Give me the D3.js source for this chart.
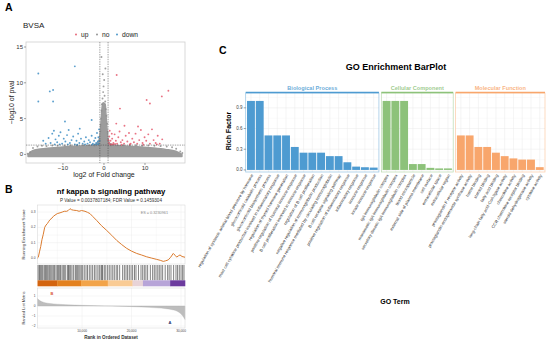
<!DOCTYPE html>
<html><head><meta charset="utf-8">
<script src="https://cdn.jsdelivr.net/npm/d3@7"></script>
<style>body{margin:0;background:#fff}svg{display:block}text{font-family:"Liberation Sans",Arial,sans-serif}</style>
</head><body><svg id="c" width="550" height="345"></svg>
<script>
// ---------- Panel A: volcano ----------
const volcanoTitle = "BVSA";
const legendLabels = ["up", "no", "down"];
const volcanoXTicks = [-10, 0, 10];
const volcanoYTicks = [0, 5, 10, 15];
const fcCut = 1, pCut = 1.3;
const grayCloudTop = [[-18.5,0],[-17.5,0.5],[-15.5,0.75],[-13,0.9],[-10,1.05],[-7,1.15],[-4,1.22],[-2,1.4],[-1.2,2.0],[-0.85,3.4],[-0.65,5.0],[-0.45,6.6],[-0.2,7.2],[0.3,7.0],[0.5,5.5],[0.7,3.8],[0.95,2.3],[1.5,1.5],[3,1.25],[6,1.15],[9,1.05],[12,0.9],[15,0.7],[17.5,0.45],[19,0]];
const upPts = [[3.1,11.1],[3.9,6.4],[10.4,7.6],[11.2,7.1],[14.1,8.1],[15.7,8.9],
 [1.2,1.6],[1.3,2.5],[1.4,3.3],[1.6,1.9],[1.8,1.4],[2.0,2.2],[2.3,1.6],[2.6,2.8],[2.9,1.9],[3.2,1.5],[3.5,2.4],[3.8,3.2],[4.1,1.7],[4.5,2.0],[4.9,1.5],[5.3,2.6],[5.7,1.8],[6.1,3.0],[6.5,1.5],[6.9,2.2],[7.3,1.7],[7.7,2.9],[8.1,1.5],[8.6,2.0],[9.0,3.4],[9.4,1.6],[9.9,2.4],[10.3,1.9],[10.8,2.8],[11.2,1.5],[11.7,3.5],[12.1,2.0],[12.6,1.6],[13.1,2.6],[13.6,1.5],[14.2,2.1],[8.3,3.9],[5.0,4.0],[2.2,1.4],[3.0,4.3],[1.5,1.4],[2.7,1.45],[4.3,1.35],[1.1,2.0],[1.9,2.9],[6.3,1.4],[9.6,1.35],[12.9,1.4]];
const downPts = [[-16.0,11.3],[-7.1,12.3],[-13.2,8.8],[-12.4,9.0],[-16.0,7.4],[-12.4,7.4],[-9.5,4.6],[-3.0,4.8],
 [-14.8,1.9],[-14.2,1.5],[-13.5,2.3],[-13.0,1.6],[-12.6,2.9],[-12.2,3.3],[-11.8,2.1],[-11.4,1.7],[-11.0,2.6],[-10.6,3.1],[-10.2,1.5],[-9.8,2.2],[-9.4,1.8],[-9.0,2.7],[-8.6,3.4],[-8.3,1.6],[-7.9,2.0],[-7.5,2.5],[-7.1,1.4],[-6.7,1.9],[-6.3,2.9],[-6.0,1.6],[-5.6,2.2],[-5.2,1.5],[-4.8,1.8],[-4.4,2.4],[-4.0,1.5],[-3.7,2.0],[-3.4,1.7],[-3.0,2.6],[-2.7,1.5],[-2.4,1.9],[-2.1,2.3],[-1.9,1.6],[-1.7,3.0],[-1.5,1.8],[-1.35,2.4],[-1.25,1.5],[-1.2,3.5],[-2.2,1.4],[-5.9,3.6],[-10.8,1.4],[-12.0,1.4],[-1.1,1.9],[-1.6,1.4],[-2.9,1.35],[-4.6,1.4],[-6.5,1.35],[-8.8,1.4]];
const noPts = [[-18.6,0.1],[-18,0.3],[-17.3,0.9],[-16.2,1.1],[-15.1,1.2],[-14,1.15],[-12.6,1.25],[-11.3,1.2],[-9.6,1.25],[-8.1,1.28],[-6.6,1.25],[-5.1,1.27],[-3.6,1.28],[-2.3,1.2],
 [-0.95,1.9],[-0.9,3.2],[-0.85,4.1],[-0.7,5.0],[-0.6,6.1],[-0.5,7.0],[-0.35,7.8],[-0.2,8.7],[-0.1,9.5],[0.15,8.2],[0.3,7.4],[0.45,6.3],[0.6,5.4],[0.75,4.3],[0.9,3.1],[0.95,2.0],[0.05,10.4],[-0.3,11.2],[0.35,12.0],[-0.6,13.6],
 [1.7,1.25],[3.3,1.28],[4.8,1.27],[6.3,1.25],[7.8,1.28],[9.3,1.2],[10.8,1.25],[12.3,1.2],[13.8,1.15],[15.3,1.1],[16.6,1.0],[17.6,0.8],[18.6,0.4],[19.1,0.2]];

// ---------- Panel B: GSEA ----------
const gseaTitle = "nf kappa b signaling pathway";
const gseaSubtitle = "P Value = 0.0037807184; FDR Value = 0.1459304";
const esLabel = "ES = 0.3230961";
const esTicks = [0.0, 0.1, 0.2, 0.3];
const rankTicks = [10000, 20000, 30000];
const metricTicks = [1, 0, -1, -2];
const esCurve = [[1000,0.0],[1160,0.005],[1400,0.04],[1650,0.075],[1900,0.12],[2170,0.155],[2450,0.2],[2720,0.215],[3000,0.225],[3300,0.24],[3530,0.25],[3900,0.26],[4200,0.272],[4540,0.28],[5000,0.29],[5550,0.295],[6000,0.3],[6400,0.305],[6900,0.305],[7200,0.31],[7570,0.322],[7900,0.315],[8300,0.312],[8920,0.31],[9400,0.305],[9900,0.31],[10600,0.305],[11100,0.298],[11600,0.29],[12200,0.27],[12960,0.245],[13900,0.212],[14980,0.18],[16000,0.148],[17000,0.115],[18000,0.088],[19020,0.063],[20000,0.045],[21040,0.03],[22000,0.02],[23060,0.008],[24000,0.0],[25080,-0.009],[25800,-0.015],[26410,-0.022],[26900,-0.018],[27420,-0.012],[27900,0.005],[28430,0.03],[28800,0.018],[29120,0.006],[29500,0.015],[29790,0.02],[30200,0.01],[30800,0.005]];
const hits = [1100,1350,1500,1700,1900,2100,2380,2600,2800,3050,3300,3500,3720,3950,4200,4450,4740,5000,5200,5410,5650,5950,6200,6420,6700,7090,7250,7430,7700,7970,8300,8640,8850,9110,9350,9590,9850,10120,10450,10800,11100,11470,11800,12140,12500,12820,13200,13500,13830,14000,14160,14500,14800,15170,15500,15850,16200,16520,16900,17190,17600,18200,18550,18880,19200,19550,19900,20220,20600,20900,21400,21910,22250,22580,22900,23250,23800,24260,24600,24940,25300,25610,25950,26280,26800,27290,27600,27970,28500,28980,29300,29650,30000,30320,30600];
const bandStops = [1000, 5000, 9800, 15200, 20200, 22300, 27800, 30800];
const bandColors = ["#D3640F","#E3811F","#F2A44A","#F9CB94","#E8D3D7","#B7A4D8","#6C3B9E"];
const rankedMetric = [[1000,0.75],[1300,0.6],[1800,0.45],[2500,0.33],[3500,0.25],[5000,0.18],[7000,0.12],[10000,0.07],[13000,0.03],[16000,0.0],[19000,-0.04],[22000,-0.1],[25000,-0.18],[27000,-0.27],[28500,-0.4],[29500,-0.6],[30200,-0.9],[30800,-1.35]];

// ---------- Panel C: GO bars ----------
const goTitle = "GO Enrichment BarPlot";
const facetNames = ["Biological Process", "Cellular Component", "Molecular Function"];
const bpTerms = ["regulation of systemic arterial blood pressure by hormone","glucocorticoid catabolic process","glucocorticoid biosynthetic process","mast cell cytokine production involved in inflammatory response","regulation of thyroid hormone generation","positive regulation of humoral immune response","B cell proliferation involved in immune response","regulation of B cell proliferation","negative regulation of immunoglobulin production","humoral immune response mediated by circulating immunoglobulin","B cell receptor signaling pathway","positive regulation of inflammatory response","inflammatory response","immune response","innate immune response"];
const bpValues = [1.0,1.0,0.5,0.5,0.5,0.333,0.25,0.25,0.25,0.2,0.2,0.111,0.048,0.039,0.034];
const ccTerms = ["IgA immunoglobulin complex","monomeric IgA immunoglobulin complex","secretory dimeric IgA immunoglobulin complex","blood microparticle","external side of plasma membrane","cell surface","extracellular space","extracellular region"];
const ccValues = [1.0,1.0,1.0,0.085,0.085,0.03,0.022,0.022];
const mfTerms = ["prostaglandin F receptor activity","prostaglandin-endoperoxide synthase activity","heme binding","steroid binding","fatty acid binding","long-chain fatty acid-CoA ligase activity","chemokine activity","CCR chemokine receptor binding","steroid dehydrogenase activity","cytokine activity"];
const mfValues = [0.5,0.5,0.333,0.333,0.25,0.2,0.167,0.15,0.15,0.04];
const richTicks = [0.0, 0.3, 0.6, 0.9];
const facetColors = ["#4E9BD1", "#8DC27A", "#F8A66C"];

const svg = d3.select("#c");
const serif = '"Liberation Serif","Times New Roman",serif';

// panel letters
[["A",5,11],["B",5,193],["C",219,54]].forEach(([t,x,y]) =>
  svg.append("text").attr("x",x).attr("y",y).text(t).attr("font-family",serif).attr("font-weight","bold").attr("font-size",10.5));

// ===== A =====
{
  const x = d3.scaleLinear().domain([-19, 19.75]).range([26, 185]);
  const y = d3.scaleLinear().domain([-1.2, 15.7]).range([163, 42]);
  const g = svg.append("g");
  g.append("text").attr("x",23).attr("y",28).text(volcanoTitle).attr("font-size",8).attr("fill","#222");
  const legendCols = ["#E55A6E","#8a8a8a","#3E8EC4"];
  const lx = [76, 97, 117];
  legendLabels.forEach((l,i)=>{
    g.append("circle").attr("cx",lx[i]).attr("cy",34.5).attr("r",0.9).attr("fill",legendCols[i]);
    g.append("text").attr("x",lx[i]+5).attr("y",37).text(l).attr("font-size",6.7).attr("fill","#222");
  });
  g.append("rect").attr("x",26).attr("y",42).attr("width",159).attr("height",121).attr("fill","#fff").attr("stroke","#cfcfcf").attr("stroke-width",0.8);
  const area = d3.area().x(d=>x(d[0])).y0(y(-0.3)).y1(d=>y(d[1])).curve(d3.curveMonotoneX);
  g.append("path").datum(grayCloudTop).attr("d",area).attr("fill","#9c9c9c").attr("stroke","#9c9c9c").attr("stroke-width",1.5).attr("stroke-linejoin","round");
  const pts = (data,col) => g.append("g").selectAll("circle").data(data).join("circle")
     .attr("cx",d=>x(d[0])).attr("cy",d=>y(d[1])).attr("r",0.95).attr("fill",col).attr("fill-opacity",0.85);
  pts(noPts,"#8f8f8f"); pts(downPts,"#3E8EC4"); pts(upPts,"#E55A6E");
  const dash = "1.4,1";
  [-fcCut, fcCut].forEach(v => g.append("line").attr("x1",x(v)).attr("x2",x(v)).attr("y1",42).attr("y2",163).attr("stroke","#444").attr("stroke-width",0.5).attr("stroke-dasharray",dash));
  g.append("line").attr("x1",26).attr("x2",185).attr("y1",y(pCut)).attr("y2",y(pCut)).attr("stroke","#444").attr("stroke-width",0.5).attr("stroke-dasharray",dash);
  volcanoYTicks.forEach(t=>{
    g.append("line").attr("x1",24).attr("x2",26).attr("y1",y(t)).attr("y2",y(t)).attr("stroke","#444").attr("stroke-width",0.5);
    g.append("text").attr("x",23).attr("y",y(t)+2).attr("text-anchor","end").attr("font-size",6).attr("fill","#333").text(t);
  });
  volcanoXTicks.forEach(t=>{
    g.append("line").attr("x1",x(t)).attr("x2",x(t)).attr("y1",163).attr("y2",165).attr("stroke","#444").attr("stroke-width",0.5);
    g.append("text").attr("x",x(t)).attr("y",170).attr("text-anchor","middle").attr("font-size",6).attr("fill","#333").text(t === 0 ? "0" : (t<0? "\u2212"+(-t) : t));
  });
  g.append("text").attr("x",104).attr("y",177).attr("text-anchor","middle").attr("font-size",7).attr("fill","#222").text("log2 of Fold change");
  g.append("text").attr("transform","translate(13.5,102.5) rotate(-90)").attr("text-anchor","middle").attr("font-size",7).attr("fill","#222").text("\u2212log10 of pval");
}

// ===== B =====
{
  const x = d3.scaleLinear().domain([1000, 30800]).range([37.5, 185]);
  const yE = d3.scaleLinear().domain([-0.039, 0.346]).range([264, 205]);
  const yR = d3.scaleLinear().domain([-2.2, 1.8]).range([328, 288]);
  const g = svg.append("g");
  g.append("text").attr("x",111).attr("y",194).attr("text-anchor","middle").attr("font-weight","bold").attr("font-size",7.8).text(gseaTitle);
  g.append("text").attr("x",111).attr("y",202).attr("text-anchor","middle").attr("font-size",4.6).attr("fill","#333").text(gseaSubtitle);
  // ES panel
  g.append("rect").attr("x",37.5).attr("y",205).attr("width",147.5).attr("height",59).attr("fill","#fff");
  const grid = "#ececec";
  [5000,10000,15000,20000,25000,30000].forEach(v=>g.append("line").attr("x1",x(v)).attr("x2",x(v)).attr("y1",205).attr("y2",264).attr("stroke",grid).attr("stroke-width",v%10000?0.3:0.5));
  [-0.05+0.1*0, 0.05, 0.15, 0.25].forEach(v=>{ if(v>-0.039) g.append("line").attr("x1",37.5).attr("x2",185).attr("y1",yE(v)).attr("y2",yE(v)).attr("stroke",grid).attr("stroke-width",0.3);});
  esTicks.forEach(v=>{
    g.append("line").attr("x1",37.5).attr("x2",185).attr("y1",yE(v)).attr("y2",yE(v)).attr("stroke",grid).attr("stroke-width",0.5);
    g.append("text").attr("x",35.5).attr("y",yE(v)+1).attr("text-anchor","end").attr("font-size",3.2).attr("fill","#444").text(v.toFixed(1));
  });
  g.append("rect").attr("x",37.5).attr("y",205).attr("width",147.5).attr("height",59).attr("fill","none").attr("stroke","#d4d4d4").attr("stroke-width",0.5);
  g.append("path").datum(esCurve).attr("d",d3.line().x(d=>x(d[0])).y(d=>yE(d[1]))).attr("fill","none").attr("stroke","#DB7B2E").attr("stroke-width",1);
  g.append("text").attr("x",168).attr("y",214).attr("text-anchor","end").attr("font-size",3.8).attr("fill","#8a8a8a").text(esLabel);
  g.append("text").attr("transform",`translate(25,${(205+264)/2}) rotate(-90)`).attr("text-anchor","middle").attr("font-size",4.2).attr("fill","#333").text("Running Enrichment Score");
  // barcode
  g.append("rect").attr("x",37.5).attr("y",265).attr("width",147.5).attr("height",15.3).attr("fill","#fff");
  g.append("g").selectAll("line").data(hits).join("line").attr("x1",d=>x(d)).attr("x2",d=>x(d)).attr("y1",265).attr("y2",280.3).attr("stroke","#000").attr("stroke-opacity",0.55).attr("stroke-width",0.9);
  // color band
  bandColors.forEach((c,i)=>g.append("rect").attr("x",x(bandStops[i])).attr("y",280.3).attr("width",x(bandStops[i+1])-x(bandStops[i])+0.3).attr("height",6).attr("fill",c));
  // ranked list
  g.append("rect").attr("x",37.5).attr("y",288).attr("width",147.5).attr("height",40).attr("fill","#fff");
  [10000,20000,30000].forEach(v=>g.append("line").attr("x1",x(v)).attr("x2",x(v)).attr("y1",288).attr("y2",328).attr("stroke",grid).attr("stroke-width",0.5));
  metricTicks.forEach(v=>{
    g.append("line").attr("x1",37.5).attr("x2",185).attr("y1",yR(v)).attr("y2",yR(v)).attr("stroke",grid).attr("stroke-width",0.5);
    g.append("text").attr("x",35.5).attr("y",yR(v)+1).attr("text-anchor","end").attr("font-size",3.2).attr("fill","#444").text(v<0?"\u2212"+(-v):v);
  });
  g.append("path").datum(rankedMetric).attr("d",d3.area().x(d=>x(d[0])).y0(yR(0)).y1(d=>yR(d[1])).curve(d3.curveMonotoneX)).attr("fill","#bdbdbd").attr("stroke","#a8a8a8").attr("stroke-width",0.3);
  g.append("rect").attr("x",37.5).attr("y",288).attr("width",147.5).attr("height",40).attr("fill","none").attr("stroke","#d4d4d4").attr("stroke-width",0.5);
  g.append("text").attr("x",52).attr("y",294.5).attr("text-anchor","middle").attr("font-size",4).attr("font-weight","bold").attr("fill","#D9553A").text("B");
  g.append("text").attr("x",170).attr("y",324).attr("text-anchor","middle").attr("font-size",4).attr("font-weight","bold").attr("fill","#23306B").text("A");
  rankTicks.forEach(v=>g.append("text").attr("x",x(v)).attr("y",332).attr("text-anchor","middle").attr("font-size",3.2).attr("fill","#444").text(d3.format(",")(v)));
  g.append("text").attr("transform",`translate(25,308) rotate(-90)`).attr("text-anchor","middle").attr("font-size",4).attr("fill","#333").text("Ranked List Metric");
  g.append("text").attr("x",111).attr("y",339).attr("text-anchor","middle").attr("font-size",4.6).attr("font-weight","bold").attr("fill","#333").text("Rank in Ordered Dataset");
}

// ===== C =====
{
  const g = svg.append("g");
  g.append("text").attr("x",396).attr("y",70).attr("text-anchor","middle").attr("font-weight","bold").attr("font-size",9).text(goTitle);
  const y = d3.scaleLinear().domain([-0.03, 1.115]).range([172, 93]);
  const facets = [[bpTerms,bpValues],[ccTerms,ccValues],[mfTerms,mfValues]];
  const L = 245.7, R = 545, gap = 2.4;
  const units = facets.reduce((s,f)=>s+f[0].length+0.2,0);
  const uw = (R-L-gap*2)/units;
  let x0 = L;
  facets.forEach(([terms,vals],fi)=>{
    const w = uw*(terms.length+0.2);
    const xs = d3.scaleBand().domain(terms).range([x0, x0+w]).paddingInner(0.1).paddingOuter(0.15);
    const col = facetColors[fi];
    // grid
    terms.forEach(t=>g.append("line").attr("x1",xs(t)+xs.bandwidth()/2).attr("x2",xs(t)+xs.bandwidth()/2).attr("y1",93).attr("y2",172).attr("stroke","#ebebeb").attr("stroke-width",0.5));
    [0.15,0.45,0.75,1.05].forEach(v=>g.append("line").attr("x1",x0).attr("x2",x0+w).attr("y1",y(v)).attr("y2",y(v)).attr("stroke","#f0f0f0").attr("stroke-width",0.3));
    richTicks.forEach(v=>g.append("line").attr("x1",x0).attr("x2",x0+w).attr("y1",y(v)).attr("y2",y(v)).attr("stroke","#ebebeb").attr("stroke-width",0.5));
    // bars
    g.append("g").selectAll("rect").data(terms).join("rect")
      .attr("x",t=>xs(t)).attr("width",xs.bandwidth())
      .attr("y",(t,i)=>y(vals[i])).attr("height",(t,i)=>y(0)-y(vals[i])).attr("fill",col);
    // frame
    g.append("rect").attr("x",x0).attr("y",93).attr("width",w).attr("height",79).attr("fill","none").attr("stroke",col).attr("stroke-opacity",0.6).attr("stroke-width",0.7);
    g.append("line").attr("x1",x0).attr("x2",x0+w).attr("y1",92.6).attr("y2",92.6).attr("stroke",col).attr("stroke-width",1.5);
    g.append("text").attr("x",x0+w/2).attr("y",89.6).attr("text-anchor","middle").attr("font-size",5.6).attr("font-weight","bold").attr("fill",col).attr("fill-opacity",0.85).text(facetNames[fi]);
    // term labels
    terms.forEach(t=>{
      const cx = xs(t)+xs.bandwidth()/2;
      g.append("text").attr("transform",`translate(${cx+1.2},174.6) rotate(-60)`).attr("text-anchor","end").attr("dy","0.35em").attr("font-size",4.2).attr("fill","#333").text(t);
    });
    x0 += w + gap;
  });
  richTicks.forEach(v=>{
    g.append("line").attr("x1",243.7).attr("x2",245.7).attr("y1",y(v)).attr("y2",y(v)).attr("stroke","#444").attr("stroke-width",0.5);
    g.append("text").attr("x",242.5).attr("y",y(v)+1.5).attr("text-anchor","end").attr("font-size",4.5).attr("fill","#444").text(v.toFixed(1));
  });
  g.append("text").attr("transform","translate(230.5,131) rotate(-90)").attr("text-anchor","middle").attr("font-weight","bold").attr("font-size",7).text("Rich Factor");
  g.append("text").attr("x",395).attr("y",304).attr("text-anchor","middle").attr("font-weight","bold").attr("font-size",7).text("GO Term");
}
</script></body></html>
